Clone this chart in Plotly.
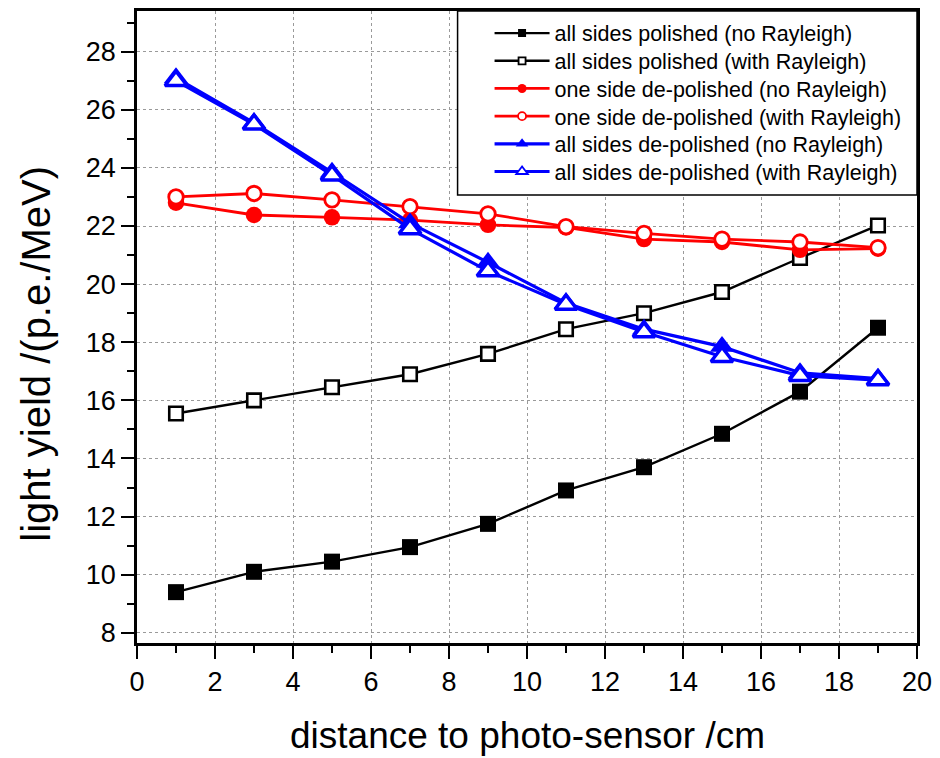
import plotly.graph_objects as go

# distance of the excitation point from the photo-sensor (cm)
distance_cm = [1, 3, 5, 7, 9, 11, 13, 15, 17, 19]

# light yield (p.e./MeV) for each surface treatment, with and without Rayleigh scattering
polished_no_rayleigh = [9.4, 10.1, 10.45, 10.95, 11.75, 12.9, 13.7, 14.85, 16.3, 18.5]
polished_rayleigh = [15.55, 16.0, 16.45, 16.9, 17.6, 18.45, 19.0, 19.73, 20.9, 22.02]
one_side_no_rayleigh = [22.8, 22.38, 22.3, 22.2, 22.04, 21.95, 21.55, 21.45, 21.18, 21.22]
one_side_rayleigh = [23.0, 23.12, 22.9, 22.67, 22.42, 21.98, 21.75, 21.55, 21.45, 21.26]
all_sides_no_rayleigh = [27.1, 25.55, 23.85, 22.1, 20.75, 19.35, 18.45, 17.85, 16.95, 16.75]
all_sides_rayleigh = [27.0, 25.5, 23.75, 21.9, 20.45, 19.3, 18.35, 17.5, 16.85, 16.7]

series_names = [
    "all sides polished (no Rayleigh)",
    "all sides polished (with Rayleigh)",
    "one side de-polished (no Rayleigh)",
    "one side de-polished (with Rayleigh)",
    "all sides de-polished (no Rayleigh)",
    "all sides de-polished (with Rayleigh)",
]
x_ticks = [0, 2, 4, 6, 8, 10, 12, 14, 16, 18, 20]
y_ticks = [8, 10, 12, 14, 16, 18, 20, 22, 24, 26, 28]
x_title = "distance to photo-sensor /cm"
y_title = "light yield /(p.e./MeV)"

FONT = "Liberation Sans, Arial, sans-serif"

# (values, colour, symbol, hollow, marker size, outline width, line width, legend marker size)
styles = [
    (polished_no_rayleigh, "#000000", "square", False, 16, 0, 2.4, 8),
    (polished_rayleigh, "#000000", "square", True, 13.5, 2.6, 2.4, 7),
    (one_side_no_rayleigh, "#ff0000", "circle", False, 16.5, 0, 2.8, 9),
    (one_side_rayleigh, "#ff0000", "circle", True, 14.5, 2.8, 2.8, 8),
    (all_sides_no_rayleigh, "#0000ff", "triangle-up", False, 21, 0, 3.2, 11),
    (all_sides_rayleigh, "#0000ff", "triangle-up", True, 19, 3.5, 3.2, 10),
]

# legend geometry: one single-entry legend per row, so the row pitch can be set freely
LEG_X = 0.452
LEG_TOP = 0.965
LEG_PITCH = 0.0438

fig = go.Figure()
legend_layouts = {}

for i, (name, (vals, col, sym, hollow, msize, mlw, lw, lsize)) in enumerate(zip(series_names, styles)):
    fill = "white" if hollow else col
    marker = dict(symbol=sym, size=msize, color=fill, line=dict(color=col, width=mlw))
    leg_marker = dict(symbol=sym, size=lsize, color=fill, line=dict(color=col, width=1.8 if hollow else 0))
    fig.add_trace(go.Scatter(
        x=distance_cm, y=vals, mode="lines+markers", name=name,
        line=dict(color=col, width=lw), marker=marker, showlegend=False,
    ))
    leg_id = "legend" if i == 0 else f"legend{i + 1}"
    # compact entry for the legend
    fig.add_trace(go.Scatter(
        x=[None], y=[None], mode="lines+markers", name=name,
        line=dict(color=col, width=lw), marker=leg_marker, showlegend=True,
        legend=leg_id,
    ))
    legend_layouts[leg_id] = dict(
        x=LEG_X, y=LEG_TOP - i * LEG_PITCH, xanchor="left", yanchor="middle",
        bgcolor="rgba(0,0,0,0)", borderwidth=0,
        font=dict(family=FONT, size=21.5, color="black"),
        itemwidth=55,
    )

axis_common = dict(
    showline=True, linecolor="black", linewidth=2.5, mirror=True,
    ticks="outside", ticklen=13, tickwidth=2, tickcolor="black",
    showgrid=True, gridcolor="#9a9a9a", gridwidth=1, griddash="dot",
    zeroline=False,
    tickfont=dict(family=FONT, size=27, color="black"),
    minor=dict(ticks="outside", ticklen=7, tickwidth=2, tickcolor="black", showgrid=False),
)

fig.update_xaxes(
    range=[0, 20], tickvals=x_ticks, ticktext=[str(v) for v in x_ticks],
    minor_dtick=1, minor_tick0=0, **axis_common,
)
fig.update_yaxes(
    range=[7.65, 29.4], tickvals=y_ticks, ticktext=[str(v) for v in y_ticks],
    minor_dtick=1, minor_tick0=0, **axis_common,
)

# axis titles
fig.add_annotation(
    text=x_title, xref="paper", yref="paper", x=0.5, y=-0.146,
    xanchor="center", yanchor="middle", showarrow=False,
    font=dict(family=FONT, size=37, color="black"),
)
fig.add_annotation(
    text=y_title, xref="paper", yref="paper", x=-0.1306, y=0.458,
    xanchor="center", yanchor="middle", showarrow=False, textangle=-90,
    font=dict(family=FONT, size=40, color="black"),
)

# legend frame
fig.add_shape(
    type="rect", xref="paper", yref="paper", x0=0.411, x1=1.0, y0=0.7087, y1=1.0,
    line=dict(color="black", width=1.5), fillcolor="white", layer="above",
)

fig.update_layout(
    width=940, height=758,
    margin=dict(l=137, r=22, t=8, b=115),
    paper_bgcolor="white", plot_bgcolor="white",
    font=dict(family=FONT, color="black"),
    **legend_layouts,
)

fig.write_html("out.html")
